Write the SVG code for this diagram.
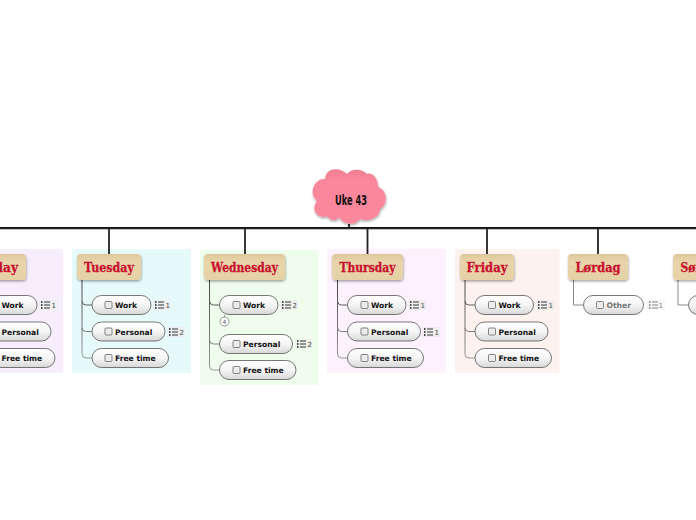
<svg xmlns="http://www.w3.org/2000/svg" width="696" height="520" viewBox="0 0 696 520">
<defs>
<linearGradient id="pill" x1="0" y1="0" x2="0" y2="1"><stop offset="0" stop-color="#ffffff"/><stop offset="0.5" stop-color="#f5f5f5"/><stop offset="1" stop-color="#d8d8d8"/></linearGradient>
<linearGradient id="head" x1="0" y1="0" x2="0" y2="1"><stop offset="0" stop-color="#dfc79b"/><stop offset="0.3" stop-color="#e9d5ab"/><stop offset="1" stop-color="#e6d1a6"/></linearGradient>
<linearGradient id="cloud" x1="0" y1="0" x2="0" y2="1"><stop offset="0" stop-color="#ef7f92"/><stop offset="0.2" stop-color="#fb879c"/><stop offset="1" stop-color="#fb879c"/></linearGradient>
<linearGradient id="conn" x1="0" y1="0" x2="0" y2="1"><stop offset="0" stop-color="#444"/><stop offset="1" stop-color="#999"/></linearGradient>
<filter id="sh" x="-10%" y="-10%" width="125%" height="130%"><feDropShadow dx="0.5" dy="1.5" stdDeviation="1" flood-color="#000" flood-opacity="0.35"/></filter>
<g id="lst"><rect x="-2" y="-5" width="18" height="10" fill="#eeeeee" opacity="0.8"/><path d="M0 -3h1.500M0 0h1.500M0 3h1.500" stroke="#111" stroke-width="1.300" fill="none"/><path d="M3 -3h6M3 0h6M3 3h6" stroke="#222" stroke-width="0.9" fill="none"/></g>
<g id="cb"><rect x="0" y="0" width="7" height="7" rx="1" fill="#ececec" stroke="#777" stroke-width="0.9"/></g>
</defs>
<style>
.bg{stroke:none}
.head{fill:url(#head);filter:url(#sh)}
.ttl{font-family:"DejaVu Serif","Liberation Serif",serif;font-weight:700;font-size:13px;fill:#c8102e;stroke:#c8102e;stroke-width:.3;text-anchor:middle}
.pill{fill:url(#pill);stroke:#555;stroke-width:.8}
.lbl{font-family:"DejaVu Sans",sans-serif;font-weight:700;font-size:7.6px;fill:#111}
.num{font-family:"DejaVu Sans",sans-serif;font-size:7px;fill:#444}
.stem{stroke:#222;stroke-width:1.800;fill:none}
.c{stroke:url(#conn);stroke-width:1;fill:none}
</style>
<rect width="696" height="520" fill="#ffffff"/>
<g id="backgrounds">
<rect class="bg" x="-60" y="249" width="123" height="124" fill="#f6eefc"/>
<rect class="bg" x="72" y="249" width="119" height="124" fill="#e6fafa"/>
<rect class="bg" x="200" y="250" width="118.500" height="135" fill="#effdec"/>
<rect class="bg" x="327" y="249" width="119" height="124" fill="#fdf1fe"/>
<rect class="bg" x="455" y="249" width="104.500" height="124" fill="#fef2ef"/>
</g>
<g id="connectors">
<path d="M0 228H696" stroke="#111" stroke-width="1.800" fill="none"/>
<path d="M0 229.300H696" stroke="#999" stroke-width="0.800" fill="none"/>
<path class="stem" d="M349 224V228M109 228V254M245 228V254M367.500 228V254M487 228V254M598 228V254"/>
<path class="c" d="M-32 280V354Q-32 358 -28 358H-22M-32 305.500H-22M-32 331.500H-22"/>
<path class="c" d="M82 280V354Q82 358 86 358H92M82 301Q82 305 86 305H92M82 327.500Q82 331.500 86 331.500H92"/>
<path class="c" d="M209.500 280V366Q209.500 370 213.500 370H219.500M209.500 301Q209.500 305 213.500 305H219.500M209.500 340Q209.500 344 213.500 344H219.500"/>
<path class="c" d="M337.500 280V354Q337.500 358 341.500 358H347.500M337.500 301Q337.500 305 341.500 305H347.500M337.500 327.500Q337.500 331.500 341.500 331.500H347.500"/>
<path class="c" d="M465 280V354Q465 358 469 358H475M465 301Q465 305 469 305H475M465 327.500Q465 331.500 469 331.500H475"/>
<path d="M573.500 280V305H583" stroke="#888" stroke-width="1" fill="none"/>
<path d="M678 280V305H688" stroke="#888" stroke-width="1" fill="none"/>
<path d="M224.500 315V317" stroke="#888" stroke-width="0.800" fill="none"/>
</g>
<g id="root">
<path d="M347 174C340 167 326 167 325 179C314 178 308 194 317 201C310 210 318 220 327 216C331 222 337 221 339 217C343 225 355 226 360 219C368 222 380 218 380 209C388 205 388 190 378 187C378 178 372 172 367 174C361 168 351 169 347 174Z" fill="url(#cloud)" filter="url(#sh)"/>
<text x="351" y="205" font-family="'DejaVu Sans',sans-serif" font-weight="700" font-size="14" fill="#111" text-anchor="middle" textLength="32" lengthAdjust="spacingAndGlyphs">Uke 43</text>
</g>
<g id="monday">
<rect class="head" x="-50" y="254" width="76" height="26" rx="4"/>
<text class="ttl" x="-9" y="272" textLength="54" lengthAdjust="spacingAndGlyphs">Monday</text>
<rect class="pill" x="-22" y="295.500" width="59" height="19" rx="9.500"/><text class="lbl" x="1.500" y="308">Work</text><use href="#lst" x="41" y="305"/><text class="num" x="51.500" y="308">1</text>
<rect class="pill" x="-22" y="322" width="73" height="19" rx="9.500"/><text class="lbl" x="1.500" y="334.500">Personal</text>
<rect class="pill" x="-22" y="348.500" width="77" height="19" rx="9.500"/><text class="lbl" x="1.500" y="361">Free time</text>
</g>
<g id="tuesday">
<rect class="head" x="77" y="254" width="64" height="26" rx="4"/>
<text class="ttl" x="109" y="272" textLength="50" lengthAdjust="spacingAndGlyphs">Tuesday</text>
<rect class="pill" x="92" y="295.500" width="59" height="19" rx="9.500"/><use href="#cb" x="105" y="301.500"/><text class="lbl" x="115" y="308">Work</text><use href="#lst" x="155" y="305"/><text class="num" x="165.500" y="308">1</text>
<rect class="pill" x="92" y="322" width="73" height="19" rx="9.500"/><use href="#cb" x="105" y="328"/><text class="lbl" x="115" y="334.500">Personal</text><use href="#lst" x="169" y="332"/><text class="num" x="179.500" y="335">2</text>
<rect class="pill" x="92" y="348.500" width="76.500" height="19" rx="9.500"/><use href="#cb" x="105" y="354.500"/><text class="lbl" x="115" y="361">Free time</text>
</g>
<g id="wednesday">
<rect class="head" x="204" y="254" width="81" height="26" rx="4"/>
<text class="ttl" x="244.500" y="272" textLength="67" lengthAdjust="spacingAndGlyphs">Wednesday</text>
<rect class="pill" x="219.500" y="295.500" width="58.500" height="19" rx="9.500"/><use href="#cb" x="233" y="301.500"/><text class="lbl" x="243" y="308">Work</text><use href="#lst" x="282" y="305"/><text class="num" x="292.500" y="308">2</text>
<circle cx="224.500" cy="321.500" r="4.500" fill="#fff" stroke="#777" stroke-width="0.800"/><text x="224.500" y="324" font-family="'DejaVu Sans',sans-serif" font-size="6" fill="#555" text-anchor="middle">4</text>
<rect class="pill" x="219.500" y="334.500" width="73" height="19" rx="9.500"/><use href="#cb" x="233" y="340.500"/><text class="lbl" x="243" y="347">Personal</text><use href="#lst" x="297" y="344"/><text class="num" x="307.500" y="347">2</text>
<rect class="pill" x="219.500" y="360.500" width="76.500" height="19" rx="9.500"/><use href="#cb" x="233" y="366.500"/><text class="lbl" x="243" y="373">Free time</text>
</g>
<g id="thursday">
<rect class="head" x="332" y="254" width="71" height="26" rx="4"/>
<text class="ttl" x="367.500" y="272" textLength="56" lengthAdjust="spacingAndGlyphs">Thursday</text>
<rect class="pill" x="347.500" y="295.500" width="58.500" height="19" rx="9.500"/><use href="#cb" x="361" y="301.500"/><text class="lbl" x="371" y="308">Work</text><use href="#lst" x="410" y="305"/><text class="num" x="420.500" y="308">1</text>
<rect class="pill" x="347.500" y="322" width="73" height="19" rx="9.500"/><use href="#cb" x="361" y="328"/><text class="lbl" x="371" y="334.500">Personal</text><use href="#lst" x="424" y="332"/><text class="num" x="434.500" y="335">1</text>
<rect class="pill" x="347.500" y="348.500" width="76" height="19" rx="9.500"/><use href="#cb" x="361" y="354.500"/><text class="lbl" x="371" y="361">Free time</text>
</g>
<g id="friday">
<rect class="head" x="460" y="254" width="54" height="26" rx="4"/>
<text class="ttl" x="487" y="272" textLength="41" lengthAdjust="spacingAndGlyphs">Friday</text>
<rect class="pill" x="475" y="295.500" width="58.500" height="19" rx="9.500"/><use href="#cb" x="488.500" y="301.500"/><text class="lbl" x="498.500" y="308">Work</text><use href="#lst" x="538" y="305"/><text class="num" x="548.500" y="308">1</text>
<rect class="pill" x="475" y="322" width="73" height="19" rx="9.500"/><use href="#cb" x="488.500" y="328"/><text class="lbl" x="498.500" y="334.500">Personal</text>
<rect class="pill" x="475" y="348.500" width="76.500" height="19" rx="9.500"/><use href="#cb" x="488.500" y="354.500"/><text class="lbl" x="498.500" y="361">Free time</text>
</g>
<g id="lordag">
<rect class="head" x="568" y="254" width="60" height="26" rx="4"/>
<text class="ttl" x="598" y="272" textLength="45" lengthAdjust="spacingAndGlyphs">Lørdag</text>
<rect class="pill" x="583.500" y="295.500" width="60" height="19" rx="9.500"/><use href="#cb" x="596.500" y="301.500"/><text class="lbl" x="606.500" y="308" style="fill:#777">Other</text><use href="#lst" x="649" y="305" opacity="0.6"/><text class="num" x="658.500" y="308" style="fill:#888">1</text>
</g>
<g id="sondag">
<rect class="head" x="673" y="254" width="60" height="26" rx="4"/>
<text class="ttl" x="703" y="272" textLength="45" lengthAdjust="spacingAndGlyphs">Søndag</text>
<rect class="pill" x="688.500" y="295.500" width="60" height="19" rx="9.500"/>
</g>
</svg>
